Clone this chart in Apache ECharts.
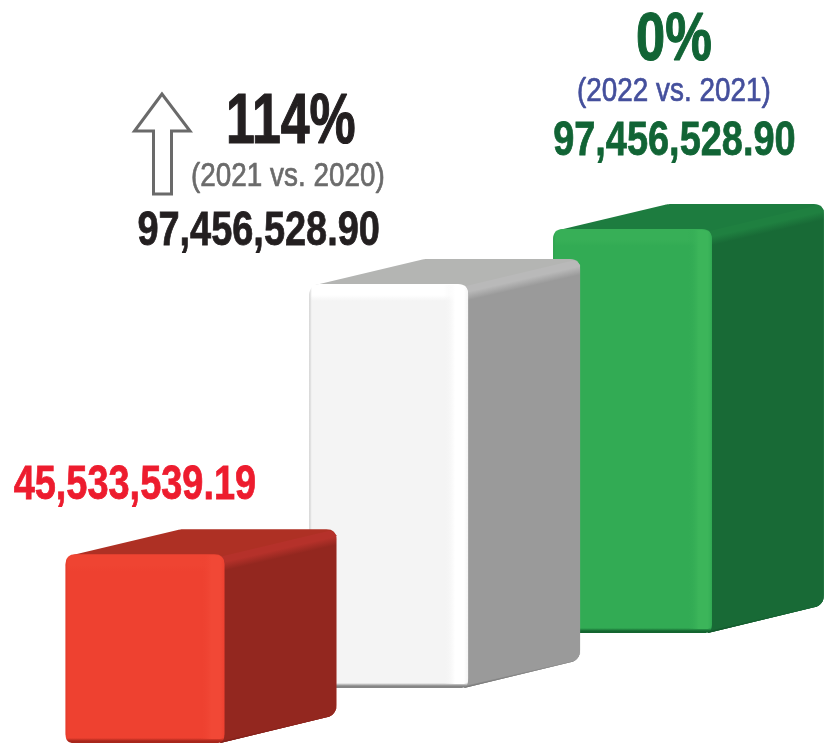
<!DOCTYPE html>
<html><head><meta charset="utf-8">
<style>html,body{margin:0;padding:0;background:#fff}#c{width:827px;height:745px}</style>
<script src="https://cdn.jsdelivr.net/npm/echarts@6/dist/echarts.min.js"></script>
</head><body><div id="c"></div>
<script>
const categories = ['2020', '2021', '2022'];
const values = [45533539.19, 97456528.90, 97456528.90];
const changePercent = ['114%', '0%'];
const changeNote = ['(2021 vs. 2020)', '(2022 vs. 2021)'];

const palettes = [
  {front:'#ee4130', hiTop:'#ef4432', hiRight:'#f14836', left:'#e03a2a', bottom:'#a8261b', side:'#93271f', top:'#ae3024', band:'#b5312a', sideLow:'#7a1d17'},
  {front:'#f4f4f4', hiTop:'#ffffff', hiRight:'#ffffff', left:'#c4c4c4', bottom:'#858585', side:'#9a9a9a', top:'#b4b5b3', band:'#b9b9b9', sideLow:'#6e6e6e'},
  {front:'#32ab54', hiTop:'#37af57', hiRight:'#3cb55a', left:'#2b9d4b', bottom:'#13652f', side:'#186a36', top:'#1d7c3f', band:'#1f8040', sideLow:'#0f4f27'}
];
const labelColors = ['#ed1c2e', '#231f20', '#116435'];

function roundPoly(pts, radii) {
  const out = [], n = pts.length;
  for (let i = 0; i < n; i++) {
    const p = pts[i], r = radii[i];
    if (!r) { out.push(p); continue; }
    const a = pts[(i + n - 1) % n], b = pts[(i + 1) % n];
    const la = Math.hypot(a[0]-p[0], a[1]-p[1]), lb = Math.hypot(b[0]-p[0], b[1]-p[1]);
    const s = [p[0]+(a[0]-p[0])*r/la, p[1]+(a[1]-p[1])*r/la];
    const e = [p[0]+(b[0]-p[0])*r/lb, p[1]+(b[1]-p[1])*r/lb];
    for (let k = 0; k <= 8; k++) {
      const t = k/8, u = 1-t;
      out.push([u*u*s[0]+2*u*t*p[0]+t*t*e[0], u*u*s[1]+2*u*t*p[1]+t*t*e[1]]);
    }
  }
  return out;
}
const grad = (x0,y0,x1,y1,stops) => new echarts.graphic.LinearGradient(x0,y0,x1,y1,
  stops.map(s => ({offset:Math.max(0,Math.min(1,s[0])), color:s[1]})), true);
const fmt = v => v.toLocaleString('en-US', {minimumFractionDigits:2, maximumFractionDigits:2});
const font = (size, w) => (w||'bold') + ' ' + size + 'px "Liberation Sans", Arial, sans-serif';
function txt(x, y, text, size, fill, sx, weight, lw) {
  return {type:'text', x, y, scaleX:sx, z2:100, silent:true,
    style:{x:0, y:0, text, font:font(size, weight), fill, textAlign:'left', textVerticalAlign:'top', stroke:fill, lineWidth:lw||0.8}};
}

function renderBar(params, api) {
  const i = api.value(0), v = api.value(1);
  const band = api.size([1,0])[0];
  const w = band * 0.651, rise = band * 0.2256;
  const c0 = api.coord([i, 0]), c1 = api.coord([i, v]);
  const X0 = c0[0]-w/2, X1 = c0[0]+w/2, Xs = X1+112;
  const B = c0[1]-rise*i, T = c1[1]-rise*i;
  const bt = T-25, Bs = B-28, p = palettes[i];
  const z = (3-i)*10;
  const W = X1-X0, H = B-T;
  const kids = [];
  const sil = roundPoly([[X0+6,T+1],[X0+115,bt],[Xs,bt],[Xs,Bs],[X1-4,B]],[0,3,10,10,0]);
  kids.push({type:'polygon', shape:{points:sil}, style:{fill:p.top}, z2:z});
  const nx=.223, ny=.975, L=14;
  const sideFace = roundPoly([[X1-2,T+2],[Xs-5,bt+1],[Xs,bt+6],[Xs,Bs],[X1-4,B]],[0,4,0,10,0]);
  kids.push({type:'polygon', shape:{points:sideFace},
    style:{fill:grad(X1,T+2,X1+nx*L,T+2+ny*L,[[0,p.band],[0.4,p.band],[1,p.side]])}, z2:z+2});
  kids.push({type:'polygon', shape:{points:roundPoly([[X1+1,B-6],[Xs,Bs-6],[Xs,Bs],[X1-4,B]],[0,0,10,0])},
    style:{fill:grad(X1,B-7,X1+nx*6,B-7+ny*6,[[0,p.side],[0.6,p.side],[1,p.sideLow]])}, z2:z+3});
  const face = roundPoly([[X0,T],[X1,T],[X1,B],[X0,B]],[10,10,8,8]);
  kids.push({type:'polygon', shape:{points:face},
    style:{fill:grad(0,T,0,B,[[0,p.hiTop],[11/H,p.hiTop],[17/H,p.front],[1-5/H,p.front],[1-2/H,p.bottom],[1,p.bottom]])}, z2:z+4});
  kids.push({type:'polygon', shape:{points:roundPoly([[X0,T+1],[X1,T+1],[X1,B-4],[X0,B-4]],[10,10,6,6])},
    style:{fill:grad(X0,0,X1,0,[[0,p.left],[3/W,p.front+'00'],[1-24/W,p.front+'00'],[1-13/W,p.hiRight],[1-4/W,p.hiRight],[1,p.front]])}, z2:z+5});
  return {type:'group', children:kids};
}

function renderNotes(params, api) {
  const i = api.value(0), v = api.value(1);
  const band = api.size([1,0])[0], rise = band*0.2256;
  const c = api.coord([i, v]);
  const X0 = c[0]-band*0.3255, T = c[1]-rise*i;
  const col = labelColors[i];
  if (i === 0) return {type:'group', children:[txt(X0-52, T-92, fmt(v), 48, col, 0.79)]};
  if (i === 1) return {type:'group', children:[
    {type:'polygon', z2:100, silent:true, shape:{points:[[162,94],[134.5,131],[153.5,131],[153.5,194],[171.5,194],[171.5,131],[190,131]]},
      style:{fill:'#fff', stroke:'#6a6a6a', lineWidth:3, lineJoin:'miter'}},
    txt(226, 89, changePercent[0], 70, '#231f20', 0.74, 'bold', 1.2),
    txt(191, 160, changeNote[0], 34, '#6b6b6b', 0.82, 'normal', 0.7),
    txt(X0-172, T-76, fmt(v), 48, col, 0.79)
  ]};
  return {type:'group', children:[
    txt(636, 6, changePercent[1], 69, col, 0.76, 'bold', 1.2),
    txt(577, 75, changeNote[1], 34, '#444f9c', 0.82, 'normal', 0.7),
    txt(X0, T-111, fmt(v), 48, col, 0.79)
  ]};
}

const chart = echarts.init(document.getElementById('c'), null, {renderer:'canvas'});
const seriesData = values.map((v, i) => [i, v]);
chart.setOption({
  animation:false,
  backgroundColor:'#ffffff',
  grid:{left:23.1, width:731.25, bottom:2, height:621.8},
  xAxis:{type:'category', data:categories, show:false},
  yAxis:{type:'value', min:0, max:150000000, show:false},
  series:[
    {type:'custom', renderItem:renderBar, data:seriesData, encode:{x:0,y:1}, silent:true, clip:false, z:2},
    {type:'custom', renderItem:renderNotes, data:seriesData, encode:{x:0,y:1}, silent:true, clip:false, z:3}
  ]
});
</script></body></html>
